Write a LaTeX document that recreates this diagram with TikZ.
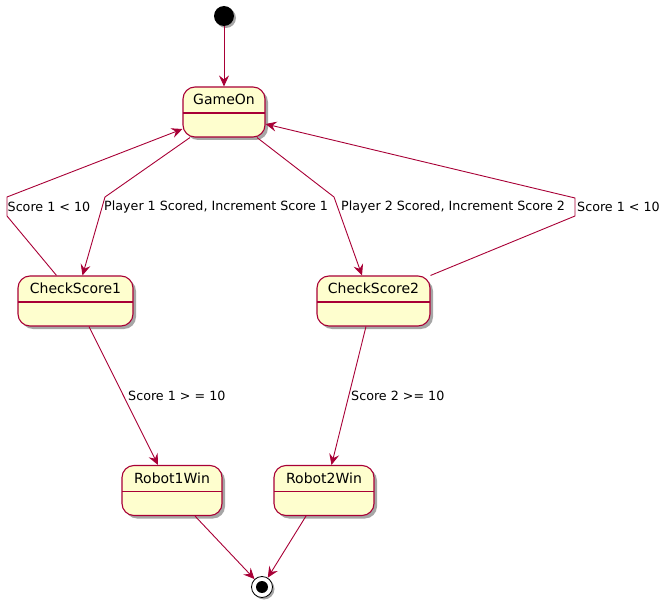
\documentclass[tikz,border=0pt]{standalone}
\usepackage{fontspec}
\setmainfont{DejaVu Sans}
\usetikzlibrary{arrows.meta,shadows}
\definecolor{plred}{HTML}{A80036}
\definecolor{plfill}{HTML}{FEFECE}
\begin{document}
\begin{tikzpicture}[x=1pt,y=-1pt,
    state/.style={draw=plred, fill=plfill, line width=1.1pt, rounded corners=12pt,
        minimum height=50pt, inner ysep=0pt, text height=18pt, text depth=32pt,
        font=\fontsize{14}{16}\selectfont,
        drop shadow={shadow xshift=3pt, shadow yshift=-3pt, opacity=0.35, fill=black},
        path picture={\draw[plred, line width=1.4pt] ([yshift=-26pt]path picture bounding box.north west) -- ([yshift=-26pt]path picture bounding box.north east);}},
    edge/.style={draw=plred, line width=0.9pt, -{Stealth[length=11pt,width=10pt,inset=4pt]}},
    guard/.style={inner sep=0pt, anchor=west, font=\fontsize{12.7}{15}\selectfont}]

    \useasboundingbox (0,0) rectangle (665,607);

    \node[circle, fill=black, minimum size=20pt, inner sep=0pt,
        drop shadow={shadow xshift=2pt, shadow yshift=-2pt, opacity=0.35, fill=black}] (init) at (224,16) {};

    \node[state, minimum width=82pt] (gameon) at (224,112) {GameOn};
    \node[state, minimum width=115pt] (checkone) at (75.5,301) {CheckScore1};
    \node[state, minimum width=113pt] (checktwo) at (373.5,301) {CheckScore2};
    \node[state, minimum width=100pt] (robotone) at (172,490.5) {Robot1Win};
    \node[state, minimum width=100pt] (robottwo) at (324,490.5) {Robot2Win};

    \node[circle, draw=black, fill=white, line width=0.8pt, minimum size=21pt, inner sep=0pt,
        drop shadow={shadow xshift=2pt, shadow yshift=-2pt, opacity=0.35, fill=black}] (final) at (262,587) {};
    \fill[black] (final.center) circle (6pt);

    \coordinate (b1) at (105,197);
    \coordinate (b2) at (7,216);
    \coordinate (b3) at (7,197);
    \coordinate (b4) at (334,197);
    \coordinate (b5) at (575,216);
    \coordinate (b6) at (575,198);

    \draw[edge] (init) -- (gameon);
    \draw[edge] ([xshift=-34pt]gameon.south) -- (b1) -- ([xshift=7pt]checkone.north);
    \draw[edge] ([xshift=-19pt]checkone.north) -- (b2) -- (b3) -- ([yshift=-17pt]gameon.west);
    \draw[edge] ([xshift=33pt]gameon.south) -- (b4) -- ([xshift=-11.5pt]checktwo.north);
    \draw[edge] (checktwo.north east) -- (b5) -- (b6) -- ([yshift=-12pt]gameon.east);
    \draw[edge] ([xshift=13.5pt]checkone.south) -- ([xshift=-14pt]robotone.north);
    \draw[edge] ([xshift=-7.5pt]checktwo.south) -- ([xshift=7.5pt]robottwo.north);
    \draw[edge] ([xshift=23pt]robotone.south) -- (final);
    \draw[edge] ([xshift=-18pt]robottwo.south) -- (final);

    \node[guard] (g1) at (104,207) {Player 1 Scored, Increment Score 1};
    \node[guard] (g2) at (7.5,207) {Score 1 < 10};
    \node[guard] (g3) at (341,207) {Player 2 Scored, Increment Score 2};
    \node[guard] (g4) at (577,207) {Score 1 < 10};
    \node[guard] (g5) at (128,396) {Score 1 > = 10};
    \node[guard] (g6) at (351,396) {Score 2 >= 10};

\end{tikzpicture}
\end{document}
